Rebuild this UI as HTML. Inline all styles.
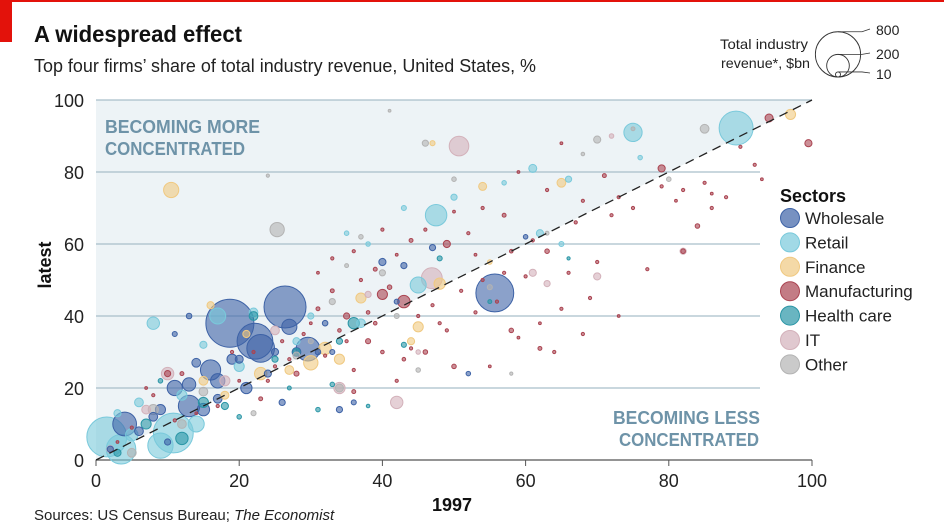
<!DOCTYPE html>
<html><head><meta charset="utf-8"><style>
body{margin:0;background:#fff;width:944px;height:531px;overflow:hidden;font-family:"Liberation Sans",sans-serif}
svg{position:absolute;left:0;top:0}
</style></head><body>
<svg id="c" width="944" height="531"></svg>
<script>
const sectorNames=["Wholesale","Retail","Finance","Manufacturing","Health care","IT","Other"];
const sectorColors=["#3d62a6","#79c9db","#f0c981","#aa4451","#2a96a6","#d3b1ba","#b3b3b3"];
const yTicks=[0,20,40,60,80,100];
const xTicks=[0,20,40,60,80,100];
// [share1997, shareLatest, revenue $bn]
const wholesale=[[18.7,38,900],[26.4,42.5,690],[22.2,33,500],[23,31,300],[29.6,30.8,220],[55.7,46.4,560],[4,10,220],[16,25,160],[17,22,80],[13,15,180],[11,20,90],[13,21,70],[15,14,60],[8,12,30],[6,8,30],[19,28,40],[27,37,90],[28,30,30],[21,20,50],[17,17,30],[24,24,20],[31,30,12],[34,14,15],[47,59,15],[40,55,20],[13,40,12],[20,28,25],[10,5,15],[26,16,15],[33,30,10],[42,44,10],[52,24,8],[2,3,15],[9,14,40],[14,27,30],[32,38,12],[25,30,20],[43,54,15],[60,62,8],[11,35,10],[36,16,10]];
const retail=[[1.5,6.4,620],[10.8,7.5,620],[3.5,3,340],[9,4,250],[89.4,92.2,450],[75,91,130],[47.5,68,180],[8,38,60],[17,40,100],[15,32,20],[37,38,30],[45,48.6,100],[62,63,20],[61,81,25],[14,10,100],[6,16,30],[5,7,60],[22,41,30],[43,70,10],[66,78,15],[50,73,15],[35,63,8],[38,60,8],[30,40,15],[20,26,40],[57,77,8],[76,84,8],[28,33,20],[12,18,40],[3,13,20],[65,60,10]];
const finance=[[10.5,75,90],[97,96,40],[54,76,25],[65,77,30],[48,49,50],[45,37,40],[32,31,60],[37,45,40],[44,33,20],[16,43,20],[23,24,60],[30,27,80],[34,28,40],[21,35,20],[27,25,30],[15,22,30],[18,18,25],[47,88,10],[55,55,8]];
const manufacturing=[[94,95,25],[99.5,88,20],[79,81,20],[84,65,8],[43,44,60],[40,46,40],[35,40,15],[49,60,20],[63,58,8],[38,33,10],[46,30,8],[50,26,8],[58,36,8],[62,31,6],[36,19,6],[28,24,10],[23,17,6],[10,24,15],[71,79,6],[57,68,6],[52,63,4],[54,70,4],[44,61,6],[39,53,6],[41,48,8],[33,47,6],[31,42,6],[29,35,4],[27,28,4],[25,26,4],[36,25,4],[42,22,4],[44,31,4],[48,38,4],[53,41,4],[56,44,4],[60,51,4],[66,52,4],[70,55,4],[72,68,4],[75,70,4],[82,75,4],[86,70,4],[88,73,4],[92,82,4],[82,58,8],[77,53,4],[69,45,4],[65,42,4],[62,38,3],[59,34,3],[64,30,4],[68,35,4],[73,40,3],[55,26,3],[49,36,4],[45,40,4],[38,41,5],[34,36,5],[30,38,3],[26,33,4],[22,30,4],[19,30,4],[12,24,6],[8,18,4],[7,20,3],[5,9,4],[3,5,3],[40,30,5],[43,28,5],[47,43,4],[51,47,4],[54,50,4],[58,58,5],[61,61,4],[67,66,4],[73,73,4],[79,76,4],[85,77,4],[90,87,4],[63,75,4],[59,80,3],[68,72,4],[40,64,4],[36,58,4],[33,56,4],[31,52,3],[37,50,4],[42,57,3],[46,64,4],[50,69,3],[53,57,3],[57,52,4],[35,33,4],[32,29,4],[39,38,5],[24,22,4],[20,22,3],[17,15,4],[14,13,3],[11,11,4],[65,88,3],[81,72,3],[86,74,3],[93,78,3]];
const health=[[22,40,30],[36,38,50],[28,30,20],[34,33,15],[15,16,40],[12,6,60],[7,10,40],[18,15,20],[25,28,15],[31,14,8],[33,21,8],[43,32,10],[48,56,10],[55,44,6],[66,56,4],[20,12,8],[3,2,20],[9,22,8],[27,20,6],[38,15,5]];
const it=[[50.7,87.2,150],[46.9,50.5,170],[42,16,60],[10,24,60],[34,20,50],[70,51,20],[82,58,15],[18,22,40],[25,36,30],[7,14,30],[2,3,20],[38,46,15],[61,52,20],[72,90,8],[63,49,15],[45,30,8]];
const other=[[25.3,64,80],[85,92,30],[70,89,20],[34,20,25],[8,14,40],[15,19,30],[28,29,20],[50,78,8],[46,88,15],[37,62,8],[40,52,15],[33,44,15],[30,33,10],[42,40,10],[22,13,10],[5,2,30],[12,10,30],[45,25,8],[55,48,10],[75,92,6],[58,24,4],[63,63,6],[80,78,8],[68,85,5],[35,54,6],[24,79,4],[41,97,3]];
const seriesList=[wholesale,retail,finance,manufacturing,health,it,other];

const NS="http://www.w3.org/2000/svg";
const svg=document.getElementById('c');
const X0=96,X1=812,Y0=460,Y1=100;
const xs=v=>X0+(X1-X0)*v/100;
const ys=v=>Y0-(Y0-Y1)*v/100;
const rs=v=>0.8*Math.sqrt(v);
function mk(tag,attrs,parent){const e=document.createElementNS(NS,tag);for(const k in attrs)e.setAttribute(k,attrs[k]);(parent||svg).appendChild(e);return e;}
function txt(x,y,s,attrs){const e=mk('text',Object.assign({x:x,y:y},attrs));e.textContent=s;return e;}

let e=mk('rect',{x:0,y:0,width:944,height:2,fill:'#e3120b'});

e=mk('rect',{x:0,y:0,width:12,height:42,fill:'#e3120b'});

e=txt(34,42,'A widespread effect',{'font-size':23,'font-weight':'bold',fill:'#111',textLength:208,lengthAdjust:'spacingAndGlyphs'});

e=txt(34,72,'Top four firms\u2019 share of total industry revenue, United States, %',{'font-size':18,fill:'#222',textLength:502,lengthAdjust:'spacingAndGlyphs'});


e=mk('polygon',{points:`${xs(0)},${ys(0)} ${xs(0)},${ys(100)} ${xs(100)},${ys(100)}`,fill:'#edf3f6'});


yTicks.forEach(t=>{
  if(t>0){const g=mk('line',{x1:X0,x2:t===100?X1:760,y1:ys(t),y2:ys(t),stroke:'#a9bfca','stroke-width':1.3});
  }
  const l=txt(84,ys(t)+7,String(t),{'font-size':18,'text-anchor':'end',fill:'#222'});
  
});
e=mk('line',{x1:X0,x2:X1,y1:Y0,y2:Y0,stroke:'#555','stroke-width':1.2});

xTicks.forEach(t=>{
  const k=mk('line',{x1:xs(t),x2:xs(t),y1:Y0,y2:Y0+6,stroke:'#555'});
  
  const l=txt(xs(t),Y0+27,String(t),{'font-size':18,'text-anchor':'middle',fill:'#222'});
  
});

const ann={'font-size':18,'font-weight':'bold',fill:'#6e93a8',lengthAdjust:'spacingAndGlyphs'};
e=txt(105,133,'BECOMING MORE',Object.assign({textLength:155},ann));
e=txt(105,155,'CONCENTRATED',Object.assign({textLength:140},ann));
e=txt(613,424,'BECOMING LESS',Object.assign({textLength:147},ann));
e=txt(619,446,'CONCENTRATED',Object.assign({textLength:140},ann));

const pts=[];
seriesList.forEach((s,si)=>s.forEach(p=>pts.push([si,p[0],p[1],p[2]])));
pts.sort((a,b)=>b[3]-a[3]);
pts.forEach(p=>{
  const c=mk('circle',{cx:xs(p[1]),cy:ys(p[2]),r:Math.max(1.3,rs(p[3])),fill:sectorColors[p[0]],'fill-opacity':0.6,stroke:sectorColors[p[0]],'stroke-width':1});
  
  
});

e=mk('line',{x1:xs(0),y1:ys(0),x2:xs(100),y2:ys(100),stroke:'#222','stroke-width':1.3,'stroke-dasharray':'9,6'});


e=txt(452,511,'1997',{'font-size':18,'font-weight':'bold','text-anchor':'middle',fill:'#111'});

e=txt(0,0,'latest',{'font-size':18,'font-weight':'bold','text-anchor':'middle',fill:'#111',transform:'translate(51,265) rotate(-90)'});

e=txt(34,520,'Sources: US Census Bureau; ',{'font-size':15,fill:'#222'});
const ts=mk('tspan',{'font-style':'italic'},e);ts.textContent='The Economist';


e=txt(780,202,'Sectors',{'font-size':18,'font-weight':'bold',fill:'#111'});

sectorNames.forEach((n,i)=>{
  const y=218+i*24.4;
  const c=mk('circle',{cx:790,cy:y,r:9.5,fill:sectorColors[i],'fill-opacity':0.7,stroke:sectorColors[i]});
  
  const t=txt(805,y+6,n,{'font-size':17,fill:'#222'});
  
});

const sizeVals=[800,200,10];
const sizeLabelY=[30,54,74];
sizeVals.forEach((v,i)=>{
  const r=rs(v);
  const c=mk('circle',{cx:838,cy:77-r,r:r,fill:'none',stroke:'#333','stroke-width':0.9});
  
  const ly=77-2*r;
  const l=mk('polyline',{points:`838,${ly} 862,${ly} 870,${sizeLabelY[i]-1}`,fill:'none',stroke:'#333','stroke-width':0.8});
  
  const t=txt(876,sizeLabelY[i]+5,String(v),{'font-size':14,fill:'#222'});
  
});
e=txt(808,49,'Total industry',{'font-size':14,'text-anchor':'end',fill:'#222',textLength:88,lengthAdjust:'spacingAndGlyphs'});

e=txt(810,68,'revenue*, $bn',{'font-size':14,'text-anchor':'end',fill:'#222',textLength:89,lengthAdjust:'spacingAndGlyphs'});

</script>
</body></html>
